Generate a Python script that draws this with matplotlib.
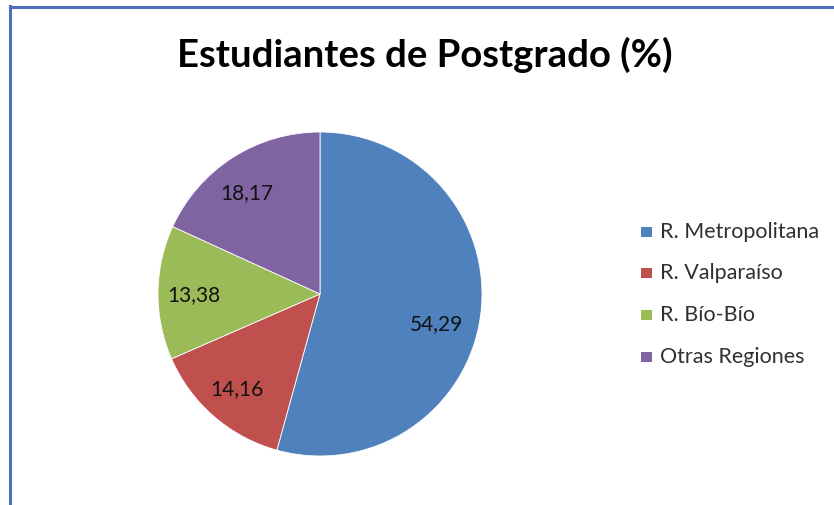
import numpy as np
import matplotlib.pyplot as plt
from matplotlib.patches import Rectangle
from matplotlib.lines import Line2D

regions = ['R. Metropolitana', 'R. Valparaíso', 'R. Bío-Bío', 'Otras Regiones']
values = [54.29, 14.16, 13.38, 18.17]
labels = ['54,29', '14,16', '13,38', '18,17']
colors = ['#4F81BD', '#C0504D', '#9BBB59', '#8064A2']

plt.rcParams['font.family'] = ['Lato', 'DejaVu Sans']

fig = plt.figure(figsize=(8.34, 5.05), dpi=100)
fig.patch.set_facecolor('white')

# frame lines of the chart area (left and top)
fig.add_artist(Line2D([9.5 / 834, 9.5 / 834], [0, 1 - 6 / 505], color='#4F6FC0', lw=2.2))
fig.add_artist(Line2D([9.5 / 834, 1], [1 - 7 / 505, 1 - 7 / 505], color='#4F6FC0', lw=2.2))

# pie axes: center (320, 294), radius 162 px
r = 162
cx, cy = 320, 294
ax = fig.add_axes([(cx - r) / 834, 1 - (cy + r) / 505, 2 * r / 834, 2 * r / 505])
wedges, _ = ax.pie(values, colors=colors, startangle=90, counterclock=False,
                   wedgeprops=dict(linewidth=0.6, edgecolor='white'))
ax.set_aspect('equal')
ax.set_xlim(-1, 1)
ax.set_ylim(-1, 1)

# value labels, placed along each wedge's middle angle (excel "best fit" look)
dist = [0.74, 0.78, 0.78, 0.77]
shift = [-7, 0, 1, 3]  # degrees
for w, lab, d, s in zip(wedges, labels, dist, shift):
    ang = np.deg2rad((w.theta1 + w.theta2) / 2 + s)
    ax.text(d * np.cos(ang), d * np.sin(ang), lab, ha='center', va='center',
            fontsize=15, color='#111111')

fig.text(425 / 834, 1 - 55 / 505, 'Estudiantes de Postgrado (%)', ha='center', va='center',
         fontsize=27.5, fontweight='bold', color='black')

# legend
leg_y = [232, 273, 315, 357]
for name, col, y in zip(regions, colors, leg_y):
    fig.add_artist(Rectangle((641 / 834, 1 - (y + 5) / 505), 11 / 834, 10 / 505,
                             facecolor=col, edgecolor='none', transform=fig.transFigure))
    fig.text(660 / 834, 1 - y / 505, name, ha='left', va='center', fontsize=15.5, color='#303030')

fig.savefig('out.png', dpi=100, facecolor='white')
